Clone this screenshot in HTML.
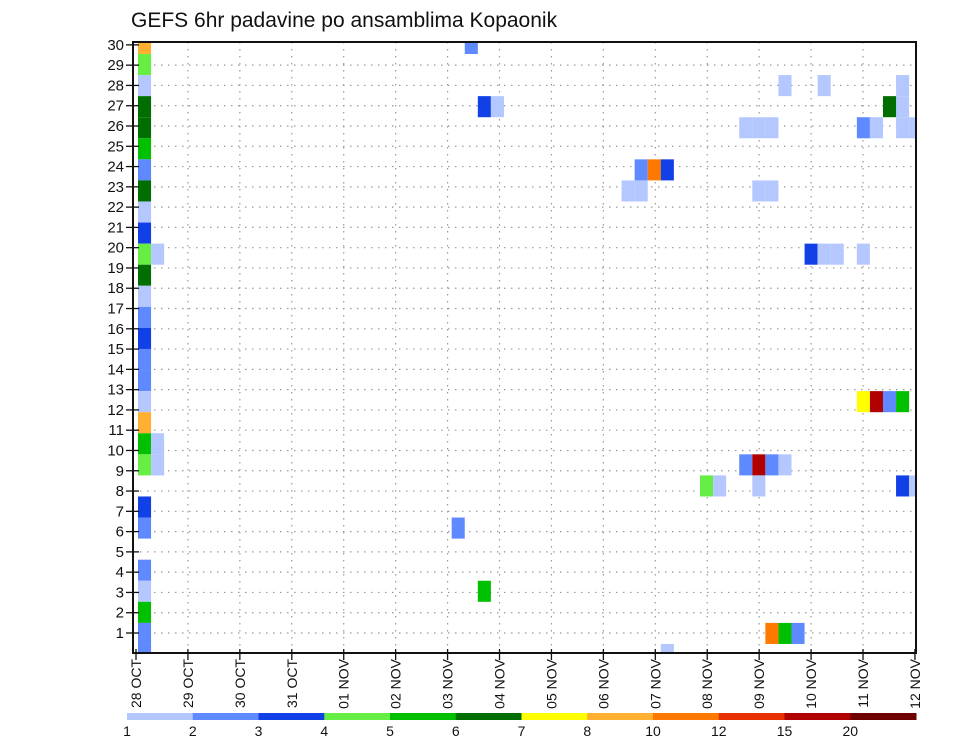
<!DOCTYPE html>
<html><head><meta charset="utf-8"><style>
body{margin:0;background:#fff;width:960px;height:742px;overflow:hidden}
svg{display:block}
text{font-family:"Liberation Sans",sans-serif;fill:#111}
</style></head><body>
<svg id="chart" width="960" height="742" viewBox="0 0 960 742">
<text x="131" y="27" font-size="21">GEFS 6hr padavine po ansamblima Kopaonik</text>
<g id="grid"></g>
<g id="cells"></g>
<g id="axes"></g>
<g id="legend"></g>
</svg>
<script>
const dayLabels=["28 OCT","29 OCT","30 OCT","31 OCT","01 NOV","02 NOV","03 NOV","04 NOV","05 NOV","06 NOV","07 NOV","08 NOV","09 NOV","10 NOV","11 NOV","12 NOV"];
const memberTicks=[1,2,3,4,5,6,7,8,9,10,11,12,13,14,15,16,17,18,19,20,21,22,23,24,25,26,27,28,29,30];
const levelLabels=["1","2","3","4","5","6","7","8","10","12","15","20"];
const levelColors=["#b4c8ff","#5f8aff","#1040e6","#66ee44","#00c000","#006e00","#ffff00","#ffb030","#ff7800","#e63000","#b00000","#700000"];
// cells: time step index (6h), ensemble member, colour class
const cellStep=[0,0,0,0,0,0,0,0,0,0,0,0,0,0,0,0,0,0,0,0,0,0,0,0,0,0,0,0,1,1,1,
25,26,27,38,39,40,37,38,49,52,58,58,58,59,57,46,47,48,55,56,47,48,51,52,53,55,
55,56,57,58,46,47,48,49,43,44,47,58,59,24,26,48,49,50,40];
const cellMember=[30,29,28,27,26,25,24,23,22,21,20,19,18,17,16,15,14,13,12,11,10,8,7,5,4,3,2,1,20,11,10,
30,27,27,24,24,24,23,23,28,28,28,27,26,26,27,26,26,26,26,26,23,23,20,20,20,20,
13,13,13,13,10,10,10,10,9,9,9,9,9,7,4,2,2,2,1];
const cellClass=[7,3,0,5,5,4,1,5,0,2,3,5,0,1,2,1,1,0,7,4,3,2,1,1,0,4,1,1,0,0,0,
1,2,0,1,8,2,0,0,0,0,0,0,0,0,5,0,0,0,1,0,0,0,2,0,0,0,
6,10,1,4,1,10,1,0,3,0,0,2,0,1,4,8,4,1,0];

const NS="http://www.w3.org/2000/svg";
const L=133,R=916,T=42,B=653;
const dayX=d=>136+d*51.93;
const tickY=v=>633-(v-1)*20.28;
const cellX=k=>138+k*13.07, CW=13.07;
const cellY=m=>54+(29-m)*21.07, CH=21.07;
function mk(tag,attrs,parent){const e=document.createElementNS(NS,tag);for(const a in attrs)e.setAttribute(a,attrs[a]);parent.appendChild(e);return e;}
const grid=document.getElementById('grid'),cells=document.getElementById('cells'),axes=document.getElementById('axes'),legend=document.getElementById('legend');
memberTicks.forEach(v=>{if(v===30)return;const y=tickY(v);
 const l=mk('line',{x1:L,x2:R,y1:y,y2:y,stroke:'#999','stroke-width':1.2,'stroke-dasharray':'1.5 5.5'},grid);
 
 });
dayLabels.forEach((s,d)=>{if(d===0||d===15)return;const x=dayX(d);
 const l=mk('line',{x1:x,x2:x,y1:T,y2:B,stroke:'#999','stroke-width':1.2,'stroke-dasharray':'1.5 5.5'},grid);
 
 });
for(let i=0;i<cellStep.length;i++){
 const x=cellX(cellStep[i]);let y=cellY(cellMember[i]);let h=CH;let w=CW;
 if(y<T){h-=T-y;y=T;} if(y+h>B)h=B-y; if(x+w>R)w=R-x;
 const r=mk('rect',{x:x,y:y,width:w,height:h,fill:levelColors[cellClass[i]]},cells);
 
 
}
const box=mk('rect',{x:L,y:T,width:R-L,height:B-T,fill:'none',stroke:'#111','stroke-width':2},axes);


memberTicks.forEach(v=>{const y=tickY(v);
 mk('line',{x1:L-7,x2:L+6,y1:y,y2:y,stroke:'#111','stroke-width':1.3},axes);
 const t=mk('text',{x:124,y:y+5,'font-size':15,'text-anchor':'end'},axes);t.textContent=v;
 
 });
dayLabels.forEach((s,d)=>{const x=dayX(d);
 mk('line',{x1:x,x2:x,y1:B-4,y2:B+7,stroke:'#111','stroke-width':1.3},axes);
 const t=mk('text',{x:0,y:0,'font-size':14,'text-anchor':'end',transform:`translate(${x+5},${B+6}) rotate(-90)`},axes);
 t.textContent=s;
 
 });
const segW=(916-127)/levelColors.length;
levelColors.forEach((c,i)=>{
 const r=mk('rect',{x:127+i*segW,y:713,width:segW+0.5,height:7,fill:c},legend);
 
 
 const t=mk('text',{x:127+i*segW,y:736,'font-size':14,'text-anchor':'middle'},legend);
 t.textContent=levelLabels[i];
 
 });
</script>
</body></html>
